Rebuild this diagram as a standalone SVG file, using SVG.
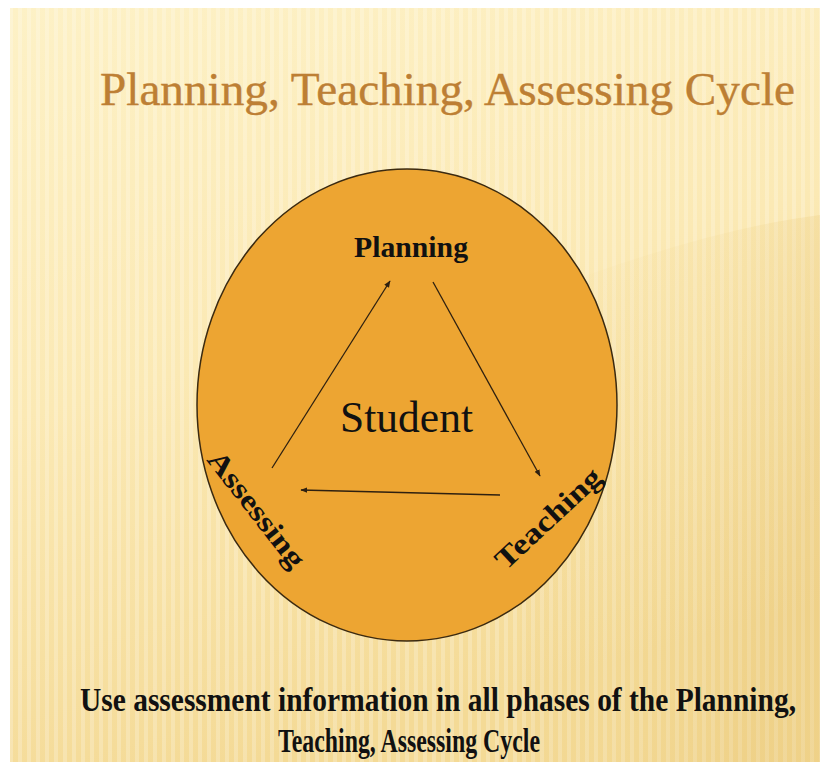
<svg xmlns="http://www.w3.org/2000/svg" width="820" height="762" viewBox="0 0 820 762">
<defs>
<linearGradient id="bg" x1="0" y1="0" x2="0.3" y2="1">
<stop offset="0" stop-color="#fdf1c6"/>
<stop offset="0.5" stop-color="#fbe9b4"/>
<stop offset="1" stop-color="#f4da96"/>
</linearGradient>
<pattern id="stripes" width="9" height="10" patternUnits="userSpaceOnUse">
<rect x="0" y="0" width="4" height="10" fill="#ffffff" opacity="0.22"/>
</pattern>
<linearGradient id="band" x1="0" y1="0" x2="1" y2="0.4">
<stop offset="0" stop-color="#e8c878" stop-opacity="0"/>
<stop offset="0.6" stop-color="#e8c878" stop-opacity="0.12"/>
<stop offset="1" stop-color="#e0b860" stop-opacity="0.25"/>
</linearGradient>
<marker id="ah" viewBox="0 0 10 10" refX="9" refY="5" markerWidth="7" markerHeight="7" orient="auto" markerUnits="userSpaceOnUse">
<path d="M0,1 L10,5 L0,9 Z" fill="#2e2010"/>
</marker>
<style>
.title{font-family:"Liberation Serif",serif;font-size:47px;fill:#bd7f34;stroke:#bd7f34;stroke-width:0.4;}
.lbl{font-family:"Liberation Serif",serif;font-weight:bold;font-size:29px;fill:#111;}
.stu{font-family:"Liberation Serif",serif;font-size:45px;fill:#111;}
.foot{font-family:"Liberation Serif",serif;font-weight:bold;font-size:27px;fill:#111;}
.con{stroke:#2e2010;stroke-width:1.3;fill:none;marker-end:url(#ah);}
</style>
</defs>
<rect width="820" height="762" fill="#ffffff"/>
<rect x="10" y="8" width="810" height="754" fill="url(#bg)"/>
<rect x="10" y="8" width="810" height="754" fill="url(#stripes)"/>
<path d="M520,300 Q700,230 820,215 L820,762 L520,762 Z" fill="url(#band)"/>
<text class="title" x="100" y="105" textLength="695" lengthAdjust="spacingAndGlyphs">Planning, Teaching, Assessing Cycle</text>
<g id="circle">
<ellipse cx="407" cy="405" rx="210" ry="236" fill="#eda532" stroke="#3b2a10" stroke-width="1.5"/>
</g>
<g id="student"><text class="stu" x="340" y="432" textLength="133" lengthAdjust="spacingAndGlyphs">Student</text></g>
<g id="planning"><text class="lbl" x="354" y="257" textLength="114" lengthAdjust="spacingAndGlyphs">Planning</text></g>
<g id="teaching"><text class="lbl" transform="translate(548,518) rotate(-43)" x="-67" y="10" textLength="134" lengthAdjust="spacingAndGlyphs">Teaching</text></g>
<g id="assessing"><text class="lbl" transform="translate(257,509) rotate(52)" x="-70" y="10" textLength="140" lengthAdjust="spacingAndGlyphs">Assessing</text></g>
<g id="connectors">
<line class="con" x1="272" y1="468" x2="390" y2="281"/>
<line class="con" x1="433" y1="282" x2="540" y2="476"/>
<line class="con" x1="500" y1="495" x2="301" y2="490"/>
</g>
<text class="foot" transform="translate(80,711) scale(1,1.26)" x="0" y="0" textLength="716" lengthAdjust="spacingAndGlyphs">Use assessment information in all phases of the Planning,</text>
<text class="foot" transform="translate(278,752) scale(1,1.26)" x="0" y="0" textLength="262" lengthAdjust="spacingAndGlyphs">Teaching, Assessing Cycle</text>
</svg>
